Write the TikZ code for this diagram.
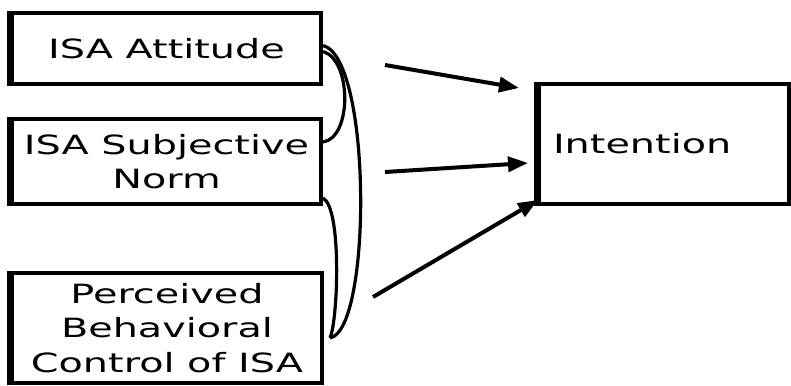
\documentclass[tikz,border=0pt]{standalone}
\usepackage{fontspec}
\setmainfont[FakeStretch=1.5]{DejaVu Sans}
\usetikzlibrary{arrows.meta,calc}
\begin{document}
\begin{tikzpicture}[x=1pt,y=-1pt,
  box/.style={draw=black, line width=4pt, fill=white, inner sep=0pt, align=center,
    font=\fontsize{26.5}{34.5}\selectfont},
  arr/.style={line width=4pt, -{Triangle[length=20pt,width=15pt]}},
  link/.style={line width=3.2pt}]
\useasboundingbox (0,0) rectangle (791,385);
\fill[white] (0,0) rectangle (791,385);
% nodes
\node[box, minimum width=309pt, minimum height=71pt] (att) at (166.5,48.5) {ISA Attitude};
\node[box, minimum width=309pt, minimum height=85pt] (subj) at (166.5,161.5) {ISA Subjective\\Norm};
\node[box, minimum width=310pt, minimum height=110pt] (pbc) at (167,328) {Perceived\\Behavioral\\Control of ISA};
\node[box, minimum width=250pt, minimum height=120pt, text width=222pt, inner xsep=14pt, align=left] (int) at (664,144) {Intention};
% thicker left edges
\draw[line width=6pt] (att.north west) -- (att.south west);
\draw[line width=6pt] (subj.north west) -- (subj.south west);
\draw[line width=6pt] (pbc.north west) -- (pbc.south west);
\draw[line width=6.5pt] (int.north west) -- (int.south west);
% arrow end points
\coordinate (s1) at (385,65);
\coordinate (e1) at (519,88);
\coordinate (s2) at (385,172);
\coordinate (e2) at (528,163);
\coordinate (s3) at (373,297);
\coordinate (e3) at (538,200);
\draw[arr] (s1) -- (e1);
\draw[arr] (s2) -- (e2);
\draw[arr] (s3) -- (e3);
% correlation curves
\draw[link] ($(att.east)+(0,3)$) .. controls (352,60) and (352,138) .. ($(subj.north east)+(0,25)$);
\draw[link] ($(att.east)+(0,-3)$) .. controls (372,58) and (372,330) .. ($(pbc.east)+(6,10)$);
\draw[link] ($(subj.south east)+(0,-8)$) .. controls (342,208) and (338,320) .. ($(pbc.east)+(6,10)$);
\end{tikzpicture}
\end{document}
